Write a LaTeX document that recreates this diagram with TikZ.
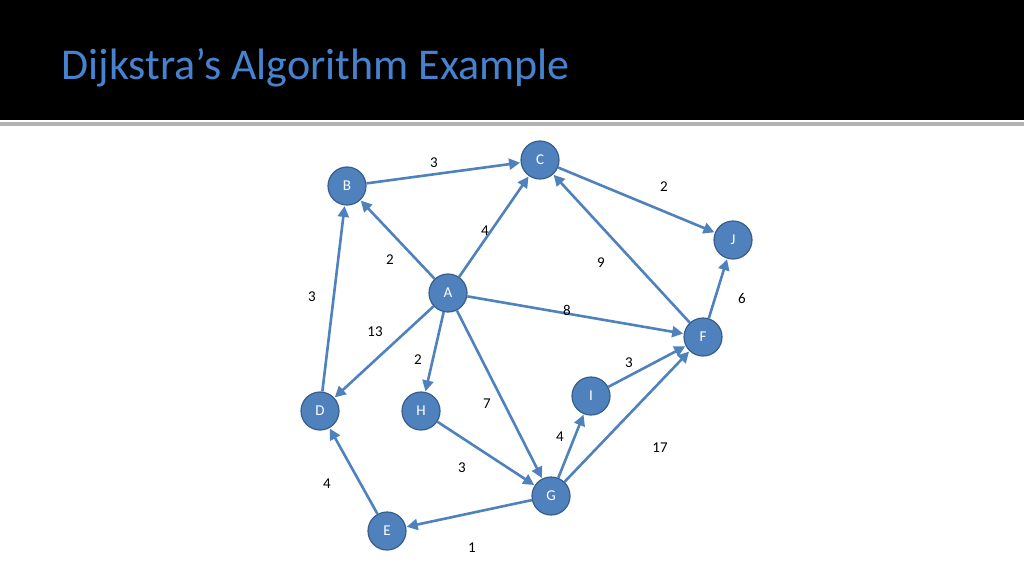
\documentclass[tikz,border=0pt]{standalone}
\usepackage{fontspec}
\setmainfont{Carlito}
\usetikzlibrary{arrows.meta}
\definecolor{nodeblue}{RGB}{79,129,189}
\definecolor{nodeedge}{RGB}{56,93,138}
\definecolor{titleblue}{RGB}{70,130,205}
\begin{document}
\begin{tikzpicture}[x=1pt,y=-1pt,
  vert/.style={circle,fill=nodeblue,draw=nodeedge,line width=1.2pt,minimum size=38pt,inner sep=0pt,text=white,font=\fontsize{15}{15}\selectfont},
  edge/.style={draw=nodeblue,line width=2.6pt,-{Triangle[length=11pt,width=11pt]},shorten >=0.5pt},
  wt/.style={font=\fontsize{15}{15}\selectfont,text=black}]
\useasboundingbox (0,0) rectangle (1024,576);
\fill[black] (0,0) rectangle (1024,120);
\fill[gray!60] (0,122) rectangle (1024,126);
\node[anchor=west,text=titleblue,font=\fontsize{44}{44}\selectfont] (title) at (58,68) {Dijkstra's Algorithm Example};
\node[vert] (B) at (347,186) {B};
\node[vert] (C) at (540,160) {C};
\node[vert] (J) at (733,240) {J};
\node[vert] (A) at (448,293) {A};
\node[vert] (F) at (703,337) {F};
\node[vert] (I) at (591,396) {I};
\node[vert] (D) at (320,411) {D};
\node[vert] (H) at (421,411) {H};
\node[vert] (G) at (551,496) {G};
\node[vert] (E) at (387,531) {E};
\foreach \a/\b in {B/C,C/J,A/B,A/C,F/C,F/J,A/F,A/D,A/H,A/G,D/B,H/G,G/I,I/F,G/F,E/D,G/E}
  \draw[edge] (\a) -- (\b);
\node[wt] (w1) at (434,163) {3};
\node[wt] (w2) at (664,187) {2};
\node[wt] (w3) at (485,231) {4};
\node[wt] (w4) at (390,260) {2};
\node[wt] (w5) at (601,263) {9};
\node[wt] (w6) at (312,297) {3};
\node[wt] (w7) at (742,298) {6};
\node[wt] (w8) at (567,310) {8};
\node[wt] (w9) at (375,332) {13};
\node[wt] (w10) at (418,360) {2};
\node[wt] (w11) at (629,363) {3};
\node[wt] (w12) at (487,404) {7};
\node[wt] (w13) at (560,437) {4};
\node[wt] (w14) at (660,448) {17};
\node[wt] (w15) at (462,468) {3};
\node[wt] (w16) at (327,484) {4};
\node[wt] (w17) at (472,548) {1};
\end{tikzpicture}
\end{document}
